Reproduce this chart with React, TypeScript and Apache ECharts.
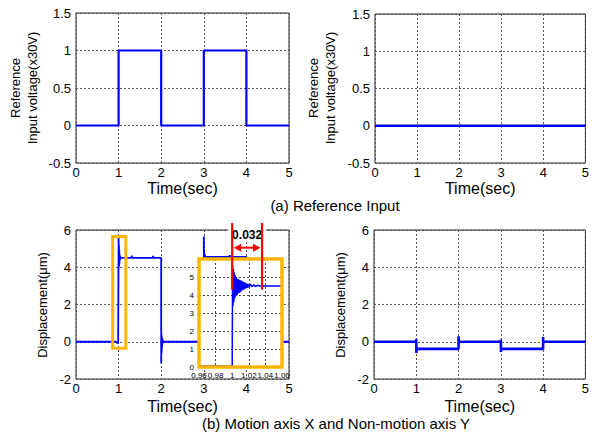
import React, { useEffect, useRef } from "react";
import * as echarts from "echarts";

// ---------- data ----------
const refTime = [0, 1, 1, 2, 2, 3, 3, 4, 4, 5];
const refInputX = [0, 0, 1, 1, 0, 0, 1, 1, 0, 0];
const refTimeY = [0, 5];
const refInputY = [0, 0];

// Motion axis X displacement (time s, µm)
const dispXPoints = [
  [0, 0], [0.94, 0], [0.97, -0.08], [0.99, 0], [1.0, 0], [1.0, 5.6], [1.004, 4.0], [1.008, 5.2],
  [1.012, 4.1], [1.016, 4.9], [1.02, 4.2], [1.025, 4.7], [1.03, 4.4], [1.04, 4.55], [1.06, 4.5],
  [1.3, 4.5], [1.31, 4.62], [1.32, 4.5], [1.8, 4.5], [1.81, 4.6], [1.82, 4.5], [2.0, 4.5],
  [2.0, -1.15], [2.005, 0.45], [2.01, -0.6], [2.015, 0.3], [2.02, -0.3], [2.03, 0.15], [2.04, -0.05],
  [2.06, 0], [3.0, 0], [3.0, 5.65], [3.004, 4.4], [3.008, 4.9], [3.015, 4.5], [3.025, 4.65],
  [3.04, 4.55], [3.6, 4.55], [3.61, 4.65], [3.62, 4.55], [4.0, 4.55], [4.0, -1.1], [4.005, 0.4],
  [4.01, -0.55], [4.015, 0.25], [4.02, -0.25], [4.03, 0.1], [4.06, 0], [5.0, 0],
];

// Non-motion axis Y displacement
const dispYPoints = [
  [0, 0], [1, 0], [1, 0.15], [1.003, -0.6], [1.01, -0.38], [2, -0.38], [2, 0.3], [2.005, -0.1],
  [2.01, 0], [3, 0], [3, 0.12], [3.003, -0.55], [3.01, -0.38], [4, -0.38], [4, 0.25],
  [4.005, -0.1], [4.01, 0], [5, 0],
];

// Zoomed view of the rising edge at t = 1 s
const zoomPoints = [
  [0.96, 0.05], [0.97, 0.06], [0.98, 0.07], [0.99, 0.05], [1.0, 0.05], [1.0005, 5.6],
  [1.001, 3.4], [1.0015, 5.45], [1.002, 3.6], [1.0025, 5.25], [1.003, 3.8], [1.0035, 5.1],
  [1.004, 3.9], [1.005, 5.0], [1.006, 4.0], [1.007, 4.9], [1.008, 4.1], [1.009, 4.85],
  [1.01, 4.15], [1.011, 4.8], [1.012, 4.25], [1.013, 4.75], [1.014, 4.3], [1.015, 4.7],
  [1.016, 4.35], [1.017, 4.65], [1.018, 4.4], [1.019, 4.62], [1.02, 4.42], [1.022, 4.6],
  [1.024, 4.45], [1.026, 4.57], [1.028, 4.47], [1.03, 4.54], [1.033, 4.5], [1.036, 4.52],
  [1.04, 4.5], [1.06, 4.5],
];

const caption1 = "(a) Reference Input";
const caption2 = "(b) Motion axis X and Non-motion axis Y";
const refLabel = "Reference\nInput voltage(x30V)";
const dispLabel = "Displacement(\u03bcm)";
const timeLabel = "Time(sec)";
const deltaLabel = "0.032";

const FONT = "Liberation Sans, Arial, sans-serif";
const BLUE = "#0000ff";
const ORANGE = "#ffb400";
const RED = "#ff0000";

const INSET = { left: 199, top: 259, width: 83, height: 108 };

function mainX(gi: number, nameGap: number) {
  return {
    type: "value", gridIndex: gi, min: 0, max: 5, interval: 1,
    name: timeLabel, nameLocation: "middle", nameGap,
    nameTextStyle: { fontFamily: FONT, fontSize: 16, color: "#000" },
    axisLine: { show: false }, axisTick: { show: false },
    axisLabel: { fontFamily: FONT, fontSize: 13, color: "#000", margin: 3 },
    splitLine: { show: true, lineStyle: { color: "#555", type: [2, 2], width: 1 } },
  };
}
function mainY(gi: number, min: number, max: number, interval: number) {
  return {
    type: "value", gridIndex: gi, min, max, interval,
    axisLine: { show: false }, axisTick: { show: false },
    axisLabel: { fontFamily: FONT, fontSize: 13, color: "#000", margin: 5 },
    splitLine: { show: true, lineStyle: { color: "#555", type: [2, 2], width: 1 } },
  };
}

export default function App() {
  const ref = useRef<HTMLDivElement>(null);
  useEffect(() => {
    if (!ref.current) return;
    const chart = echarts.init(ref.current, null, { renderer: "svg" });
    const gridBase = { show: true, borderColor: "#222", borderWidth: 1, backgroundColor: "#fff" };
    const insetSplit = {
      show: true, showMinLine: false, showMaxLine: false,
      lineStyle: { color: "#444", type: [2, 2], width: 1 },
    };
    const option: any = {
      animation: false,
      backgroundColor: "#fff",
      grid: [
        { ...gridBase, left: 76, top: 13, width: 213, height: 150 },
        { ...gridBase, left: 375, top: 14, width: 213, height: 149 },
        { ...gridBase, left: 76, top: 230, width: 213, height: 149 },
        { ...gridBase, left: 374, top: 230, width: 214, height: 149 },
        { ...INSET, show: true, z: 10, backgroundColor: "#fff", borderColor: "#fff", borderWidth: 2 },
        { ...INSET, show: true, z: 14, backgroundColor: "transparent", borderColor: ORANGE, borderWidth: 3.5 },
      ],
      xAxis: [
        mainX(0, 17), mainX(1, 17), mainX(2, 19), mainX(3, 19),
        {
          type: "value", gridIndex: 4, min: 0.96, max: 1.06, interval: 0.02, z: 11,
          axisLine: { show: false }, axisTick: { show: false },
          axisLabel: {
            fontFamily: FONT, fontSize: 8, color: "#000", margin: 4,
            formatter: (v: number) => String(+v.toFixed(2)),
          },
          splitLine: insetSplit,
        },
        { type: "value", gridIndex: 5, show: false, min: 0, max: 1 },
      ],
      yAxis: [
        mainY(0, -0.5, 1.5, 0.5), mainY(1, -0.5, 1.5, 0.5), mainY(2, -2, 6, 2), mainY(3, -2, 6, 2),
        {
          type: "value", gridIndex: 4, min: 0, max: 6, interval: 1, z: 11,
          axisLine: { show: false }, axisTick: { show: false },
          axisLabel: { fontFamily: FONT, fontSize: 8, color: "#000", margin: 5, showMaxLabel: false },
          splitLine: insetSplit,
        },
        { type: "value", gridIndex: 5, show: false, min: 0, max: 1 },
      ],
      series: [
        { type: "line", z: 2, xAxisIndex: 0, yAxisIndex: 0, data: refTime.map((t, i) => [t, refInputX[i]]),
          showSymbol: false, lineStyle: { color: BLUE, width: 2.2 } },
        { type: "line", z: 2, xAxisIndex: 1, yAxisIndex: 1, data: refTimeY.map((t, i) => [t, refInputY[i]]),
          showSymbol: false, lineStyle: { color: BLUE, width: 2.6 } },
        { type: "line", z: 2, xAxisIndex: 2, yAxisIndex: 2, data: dispXPoints,
          showSymbol: false, lineStyle: { color: BLUE, width: 1.8 } },
        { type: "line", z: 2, xAxisIndex: 3, yAxisIndex: 3, data: dispYPoints,
          showSymbol: false, lineStyle: { color: BLUE, width: 2.6 } },
        { type: "line", z: 12, xAxisIndex: 4, yAxisIndex: 4, data: zoomPoints,
          showSymbol: false, lineStyle: { color: BLUE, width: 1.5 } },
      ],
    };
    chart.setOption(option);

    const px = (gi: number, pt: number[]) => chart.convertToPixel({ gridIndex: gi } as any, pt) as number[];
    const oTL = px(2, [0.86, 5.65]);
    const oBR = px(2, [1.17, -0.35]);
    const ra = px(4, [1.0, 4.3]);
    const rb = px(4, [1.036, 4.3]);
    const mainTop = px(2, [0, 6])[1];
    const arrowY = px(2, [0, 5.05])[1];
    const textY = px(2, [0, 5.75])[1];
    const xa = ra[0], xb = rb[0];

    const textStyle = { fontFamily: FONT, fill: "#000", align: "center", verticalAlign: "middle" };
    chart.setOption({
      graphic: [
        { type: "rect", z: 20, silent: true,
          shape: { x: oTL[0], y: oTL[1], width: oBR[0] - oTL[0], height: oBR[1] - oTL[1] },
          style: { fill: "none", stroke: ORANGE, lineWidth: 3 } },
        { type: "text", z: 20, x: (xa + xb) / 2, y: textY,
          style: { ...textStyle, text: deltaLabel, fontSize: 12, fontWeight: "bold",
            backgroundColor: "#fff", padding: [1, 4] } },
        { type: "line", z: 21, shape: { x1: xa, y1: mainTop - 7, x2: xa, y2: ra[1] },
          style: { stroke: RED, lineWidth: 2.2 } },
        { type: "line", z: 21, shape: { x1: xb, y1: mainTop - 7, x2: xb, y2: rb[1] },
          style: { stroke: RED, lineWidth: 2.2 } },
        { type: "line", z: 21, shape: { x1: xa + 6, y1: arrowY, x2: xb - 6, y2: arrowY },
          style: { stroke: RED, lineWidth: 2 } },
        { type: "polygon", z: 21, shape: { points: [[xa + 1.5, arrowY], [xa + 9, arrowY - 4], [xa + 9, arrowY + 4]] },
          style: { fill: RED } },
        { type: "polygon", z: 21, shape: { points: [[xb - 1.5, arrowY], [xb - 9, arrowY - 4], [xb - 9, arrowY + 4]] },
          style: { fill: RED } },
        { type: "text", x: 23.5, y: 88, rotation: Math.PI / 2,
          style: { ...textStyle, text: refLabel, fontSize: 13, lineHeight: 17 } },
        { type: "text", x: 321.5, y: 88, rotation: Math.PI / 2,
          style: { ...textStyle, text: refLabel, fontSize: 13, lineHeight: 17 } },
        { type: "text", x: 42, y: 305, rotation: Math.PI / 2,
          style: { ...textStyle, text: dispLabel, fontSize: 13 } },
        { type: "text", x: 340, y: 305, rotation: Math.PI / 2,
          style: { ...textStyle, text: dispLabel, fontSize: 13 } },
        { type: "text", x: 335, y: 205, style: { ...textStyle, text: caption1, fontSize: 15 } },
        { type: "text", x: 336, y: 423, style: { ...textStyle, text: caption2, fontSize: 15 } },
      ],
    });
    return () => chart.dispose();
  }, []);
  return (
    <div
      ref={ref}
      style={{ position: "fixed", left: 0, top: 0, width: 592, height: 435, background: "#fff" }}
    />
  );
}
